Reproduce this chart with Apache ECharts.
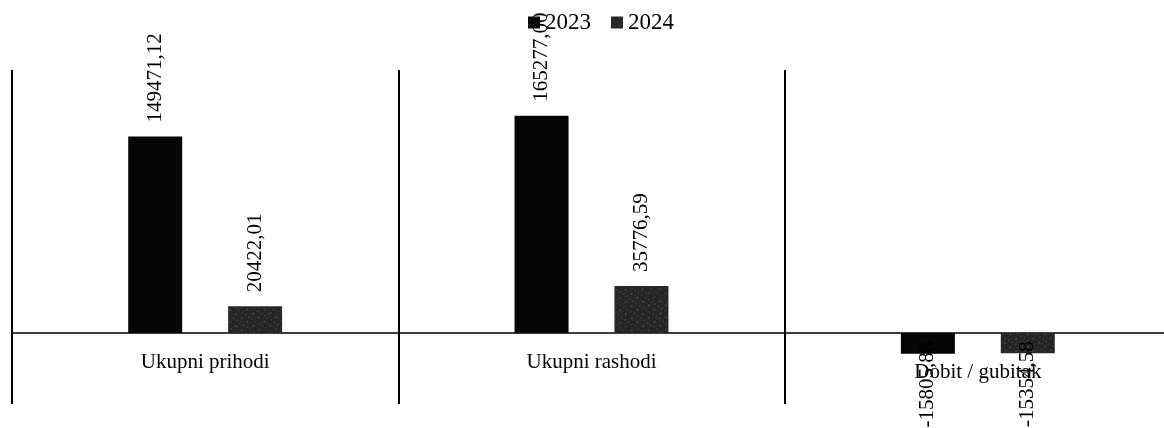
<!DOCTYPE html>
<html>
<head>
<meta charset="utf-8">
<script src="https://cdn.jsdelivr.net/npm/echarts@6/dist/echarts.min.js"></script>
<style>
  html, body { margin: 0; padding: 0; background: #fff; }
  #main { width: 1164px; height: 428px; }
</style>
</head>
<body>
<div id="main"></div>
<script>
var categories = ["Ukupni prihodi", "Ukupni rashodi", "Dobit / gubitak"];
var seriesNames = ["2023", "2024"];
var values2023 = [149471.12, 165277.00, -15805.88];
var values2024 = [20422.01, 35776.59, -15354.58];

var FONT = "'Liberation Serif', 'DejaVu Serif', serif";

function fmt(v) {
  return v.toFixed(2).replace(".", ",");
}

// negative bars get their label hanging below the bar (overlapping it a bit)
function toItems(arr) {
  return arr.map(function (v) {
    if (v < 0) {
      return { value: v, label: { position: "bottom", align: "right", distance: -12 } };
    }
    return v;
  });
}

var chartDom = document.getElementById("main");
var myChart = echarts.init(chartDom, null, { renderer: "canvas" });

var option = {
  animation: false,
  legend: {
    left: 523,
    top: 6,
    icon: "rect",
    itemWidth: 12,
    itemHeight: 12,
    itemGap: 20,
    data: seriesNames,
    textStyle: { fontFamily: FONT, fontSize: 23, color: "#000" },
  },
  grid: {
    left: 12,
    top: 70,
    width: 1159,
    height: 334,
    containLabel: false,
    outerBoundsMode: "none",
  },
  xAxis: {
    type: "category",
    data: categories.map(function (c, i) {
      if (i === 2) {
        return { value: c, textStyle: { padding: [10, 0, 0, 0] } };
      }
      return c;
    }),
    axisLine: { onZero: true, lineStyle: { color: "#000", width: 1.5 } },
    axisTick: { show: false },
    axisLabel: {
      interval: 0,
      margin: -52,
      verticalAlign: "top",
      fontFamily: FONT,
      fontSize: 21,
      color: "#000",
    },
    splitLine: { show: true, interval: 0, lineStyle: { color: "#000", width: 2 } },
  },
  yAxis: {
    type: "value",
    min: -54000,
    max: 200000,
    show: false,
    splitLine: { show: false },
  },
  series: [
    {
      name: "2023",
      type: "bar",
      barWidth: 54,
      barGap: "85%",
      itemStyle: { color: "#050505" },
      label: {
        show: true,
        position: "top",
        rotate: 90,
        align: "left",
        verticalAlign: "middle",
        distance: 14,
        fontFamily: FONT,
        fontSize: 21,
        color: "#000",
        formatter: function (p) { return fmt(p.value); },
      },
      data: toItems(values2023),
    },
    {
      name: "2024",
      type: "bar",
      barWidth: 54,
      itemStyle: {
        color: "#262626",
        decal: {
          symbol: "rect",
          symbolSize: 0.6,
          color: "rgba(255,255,255,0.35)",
          dashArrayX: [[2, 5], [1, 3]],
          dashArrayY: [2, 3],
          rotation: 0.6,
        },
      },
      label: {
        show: true,
        position: "top",
        rotate: 90,
        align: "left",
        verticalAlign: "middle",
        distance: 14,
        fontFamily: FONT,
        fontSize: 21,
        color: "#000",
        formatter: function (p) { return fmt(p.value); },
      },
      data: toItems(values2024),
    },
  ],
};

option && myChart.setOption(option);
</script>
</body>
</html>
